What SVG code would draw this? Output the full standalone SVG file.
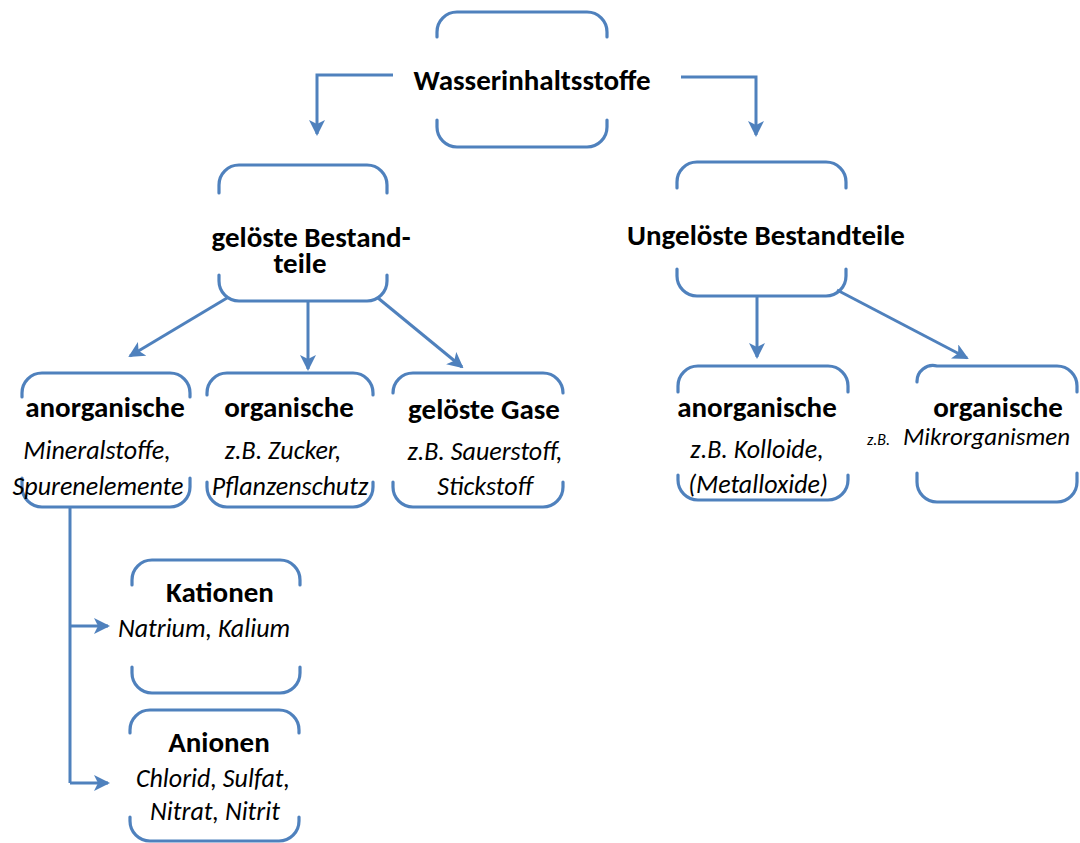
<svg xmlns="http://www.w3.org/2000/svg" width="1080" height="843" viewBox="0 0 1080 843">
<defs>
<marker id="ah" viewBox="0 0 16 16" markerUnits="userSpaceOnUse" markerWidth="16" markerHeight="16" refX="14" refY="8" orient="auto">
<path d="M0,0 L16,8 L0,16 L4,8 z" fill="#4F81BD"/>
</marker>
<style>
.br{fill:none;stroke:#4F81BD;stroke-width:3.2;stroke-linecap:round}
.cn{fill:none;stroke:#4F81BD;stroke-width:3}
.t{font-family:Carlito,Lato,"Open Sans",sans-serif;font-weight:bold;font-size:29px;fill:#000;text-anchor:middle}
.s{font-family:Carlito,Lato,"Open Sans",sans-serif;font-style:italic;font-size:26px;fill:#000;text-anchor:middle}
</style>
</defs>
<rect width="1080" height="843" fill="#fff"/>
<g id="connectors">
<path class="cn" d="M393,75 H317 V134" marker-end="url(#ah)"/>
<path class="cn" d="M681,77 H756 V135" marker-end="url(#ah)"/>
<path class="cn" d="M227,298 L130,356" marker-end="url(#ah)"/>
<path class="cn" d="M308,302 V369" marker-end="url(#ah)"/>
<path class="cn" d="M378,298 L462,367" marker-end="url(#ah)"/>
<path class="cn" d="M757,297 V357" marker-end="url(#ah)"/>
<path class="cn" d="M837,290 L967,358" marker-end="url(#ah)"/>
<path class="cn" d="M70,508 V783"/>
<path class="cn" d="M70,626 H108" marker-end="url(#ah)"/>
<path class="cn" d="M70,783 H108" marker-end="url(#ah)"/>
</g>
<g id="n-wasser">
<path class="br" d="M437,37 V32 A20,20 0 0 1 457,12 H587 A20,20 0 0 1 607,32 V37"/>
<path class="br" d="M437,120 V127 A20,20 0 0 0 457,147 H587 A20,20 0 0 0 607,127 V120"/>
<text class="t" x="532" y="90">Wasserinhaltsstoffe</text>
</g>
<g id="n-geloest">
<path class="br" d="M219,193 V185 A20,20 0 0 1 239,165 H367 A20,20 0 0 1 387,185 V193"/>
<path class="br" d="M219,275 V281 A20,20 0 0 0 239,301 H367 A20,20 0 0 0 387,281 V275"/>
<text class="t" x="311" y="247">gelöste Bestand-</text>
<text class="t" x="300" y="273">teile</text>
</g>
<g id="n-ungeloest">
<path class="br" d="M677,188 V182 A20,20 0 0 1 697,162 H826 A20,20 0 0 1 846,182 V188"/>
<path class="br" d="M677,269 V276 A20,20 0 0 0 697,296 H826 A20,20 0 0 0 846,276 V269"/>
<text class="t" x="766" y="245">Ungelöste Bestandteile</text>
</g>
<g id="n-anorg-l">
<path class="br" d="M22,397 V393 A20,20 0 0 1 42,373 H170 A20,20 0 0 1 190,393 V397"/>
<path class="br" d="M22,478 V487 A20,20 0 0 0 42,507 H170 A20,20 0 0 0 190,487 V478"/>
<text class="t" x="105" y="417">anorganische</text>
<text class="s" x="97" y="459">Mineralstoffe,</text>
<text class="s" x="98" y="495">Spurenelemente</text>
</g>
<g id="n-org-l">
<path class="br" d="M207,395 V393 A20,20 0 0 1 227,373 H353 A20,20 0 0 1 373,393 V395"/>
<path class="br" d="M207,482 V487 A20,20 0 0 0 227,507 H353 A20,20 0 0 0 373,487 V482"/>
<text class="t" x="289" y="417">organische</text>
<text class="s" x="283" y="459">z.B. Zucker,</text>
<text class="s" x="290" y="495">Pflanzenschutz</text>
</g>
<g id="n-gase">
<path class="br" d="M393,393 A20,20 0 0 1 413,373 H543 A20,20 0 0 1 563,393"/>
<path class="br" d="M393,482 V487 A20,20 0 0 0 413,507 H543 A20,20 0 0 0 563,487 V482"/>
<text class="t" x="484" y="419">gelöste Gase</text>
<text class="s" x="485" y="460">z.B. Sauerstoff,</text>
<text class="s" x="485" y="495">Stickstoff</text>
</g>
<g id="n-anorg-r">
<path class="br" d="M678,392 V386 A20,20 0 0 1 698,366 H828 A20,20 0 0 1 848,386 V392"/>
<path class="br" d="M678,475 V480 A20,20 0 0 0 698,500 H828 A20,20 0 0 0 848,480 V475"/>
<text class="t" x="757" y="417">anorganische</text>
<text class="s" x="757" y="458">z.B. Kolloide,</text>
<text class="s" x="758" y="493">(Metalloxide)</text>
</g>
<g id="n-org-r">
<path class="br" d="M917,382 A16,16 0 0 1 937,366 H1057 A20,20 0 0 1 1077,386 V392"/>
<path class="br" d="M917,473 V482 A20,20 0 0 0 937,502 H1057 A20,20 0 0 0 1077,482 V473"/>
<text class="t" x="998" y="417">organische</text>
<text class="s" x="867" y="445" style="font-size:16px;text-anchor:start">z.B.</text>
<text class="s" x="903" y="445" style="font-size:25px;text-anchor:start">Mikrorganismen</text>
</g>
<g id="n-kationen">
<path class="br" d="M132,585 V580 A20,20 0 0 1 152,560 H280 A20,20 0 0 1 300,580 V585"/>
<path class="br" d="M132,667 V673 A20,20 0 0 0 152,693 H280 A20,20 0 0 0 300,673 V667"/>
<text class="t" x="220" y="602">Kationen</text>
<text class="s" x="204" y="637">Natrium, Kalium</text>
</g>
<g id="n-anionen">
<path class="br" d="M130,733 V730 A20,20 0 0 1 150,710 H279 A20,20 0 0 1 299,730 V733"/>
<path class="br" d="M130,817 V821 A20,20 0 0 0 150,841 H279 A20,20 0 0 0 299,821 V817"/>
<text class="t" x="219" y="752">Anionen</text>
<text class="s" x="213" y="787">Chlorid, Sulfat,</text>
<text class="s" x="215" y="820">Nitrat, Nitrit</text>
</g>
</svg>
